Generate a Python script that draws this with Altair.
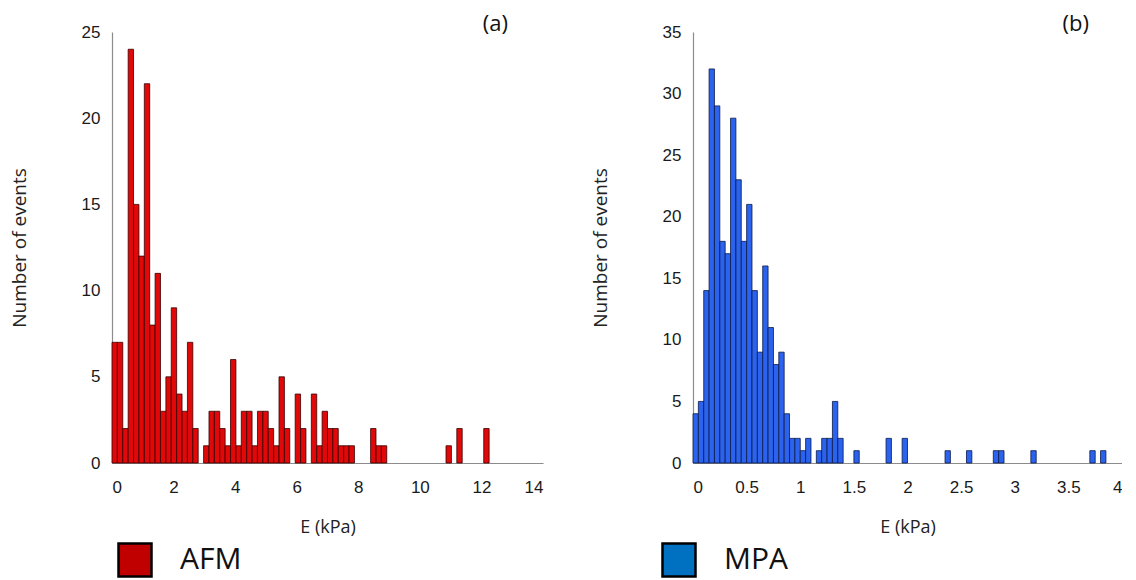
import altair as alt
import pandas as pd

# ---------------- data ----------------
afm_bin_width = 0.175
afm_counts = [
    7, 7, 2, 24, 15, 12, 22, 8, 11, 3,
    5, 9, 4, 3, 7, 2, 0, 1, 3, 3,
    2, 1, 6, 1, 3, 3, 1, 3, 3, 2,
    1, 5, 2, 0, 4, 2, 0, 4, 1, 3,
    2, 2, 1, 1, 1, 0, 0, 0, 2, 1,
    1, 0, 0, 0, 0, 0, 0, 0, 0, 0,
    0, 0, 1, 0, 2, 0, 0, 0, 0, 2,
]

mpa_bin_width = 0.05
mpa_counts = [
    4, 5, 14, 32, 29, 18, 17, 28, 23, 18,
    21, 14, 9, 16, 11, 8, 9, 4, 2, 2,
    1, 2, 0, 1, 2, 2, 5, 2, 0, 0,
    1, 0, 0, 0, 0, 0, 2, 0, 0, 2,
    0, 0, 0, 0, 0, 0, 0, 1, 0, 0,
    0, 1, 0, 0, 0, 0, 1, 1, 0, 0,
    0, 0, 0, 1, 0, 0, 0, 0, 0, 0,
    0, 0, 0, 0, 1, 0, 1,
]

afm_x_ticks = [0, 2, 4, 6, 8, 10, 12, 14]
afm_y_ticks = [0, 5, 10, 15, 20, 25]
mpa_x_ticks = [0, 0.5, 1, 1.5, 2, 2.5, 3, 3.5, 4]
mpa_y_ticks = [0, 5, 10, 15, 20, 25, 30, 35]


def bins_frame(counts, w):
    rows = [
        {"start": i * w, "end": (i + 1) * w, "count": c}
        for i, c in enumerate(counts)
        if c > 0
    ]
    return pd.DataFrame(rows)


def panel(counts, w, label, method, bar_fill, bar_stroke, legend_fill,
          xmax, xticks, ymax, yticks, width, title_dx, legend_x):
    df = bins_frame(counts, w)
    x_enc = alt.X(
        "start:Q",
        scale=alt.Scale(domain=[0, xmax], nice=False, zero=True),
        axis=alt.Axis(values=xticks, title="E (kPa)", format="~g"),
    )
    y_enc = alt.Y(
        "count:Q",
        scale=alt.Scale(domain=[0, ymax], nice=False),
        axis=alt.Axis(values=yticks, title="Number of events"),
    )
    bars = alt.Chart(df).mark_bar(
        fill=bar_fill, stroke=bar_stroke, strokeWidth=0.8, opacity=1
    ).encode(x=x_enc, x2="end:Q", y=y_enc, y2=alt.datum(0))

    leg_df = pd.DataFrame({"start": [0.0], "count": [0], "method": [method]})
    legend_layer = alt.Chart(leg_df).mark_square(
        size=0, filled=True, opacity=1, stroke="black", strokeWidth=2.5
    ).encode(
        x=x_enc,
        y=y_enc,
        fill=alt.Fill(
            "method:N",
            scale=alt.Scale(domain=[method], range=[legend_fill]),
            legend=alt.Legend(
                title=None,
                orient="none",
                legendX=legend_x,
                legendY=510,
                symbolType="square",
                symbolSize=1089,
                symbolStrokeColor="black",
                symbolStrokeWidth=2.5,
                symbolOpacity=1,
                labelFontSize=30,
                labelFont="Open Sans",
                labelColor="#111111",
                labelOffset=27,
                padding=0,
            ),
        ),
    )
    return alt.layer(bars, legend_layer).properties(
        width=width,
        height=431,
        title=alt.Title(
            label,
            anchor="end",
            frame="group",
            dx=title_dx,
            dy=30,
            offset=0,
            baseline="alphabetic",
            fontSize=22,
            font="Open Sans",
            fontWeight="normal",
            color="#111111",
        ),
    )


left = panel(afm_counts, afm_bin_width, "(a)", "AFM", "#E00808", "#3A0000",
             "#C00000", 14, afm_x_ticks, 25, afm_y_ticks, 431, -35, 5)
right = panel(mpa_counts, mpa_bin_width, "(b)", "MPA", "#2B63EE", "#0A1A4A",
              "#0070C0", 4, mpa_x_ticks, 35, mpa_y_ticks, 429, -33, -32)

chart = (
    alt.hconcat(left, right, spacing=48)
    .resolve_scale(fill="independent", x="independent", y="independent")
    .resolve_legend(fill="independent")
    .properties(padding={"left": 2, "top": 5, "right": 0, "bottom": 0})
    .configure_view(stroke=None)
    .configure_axis(
        grid=False,
        ticks=False,
        domainColor="#8C8C8C",
        domainWidth=1.2,
        labelFont="Liberation Sans",
        labelFontSize=17,
        labelColor="#1A1A1A",
        titleFont="Open Sans",
        titleFontWeight="normal",
        titleColor="#222222",
    )
    .configure_axisY(labelPadding=12, titleFontSize=19, titlePadding=52)
    .configure_axisX(labelPadding=16, titleFontSize=18, titlePadding=23)
)

chart.save("out.html", embed_options={"renderer": "svg", "actions": False})
